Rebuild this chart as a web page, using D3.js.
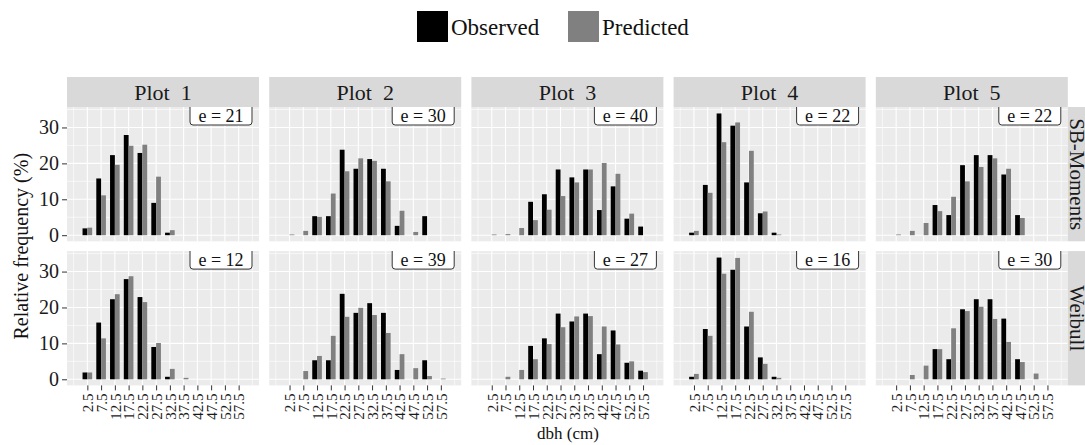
<!DOCTYPE html>
<html>
<head>
<meta charset="utf-8">
<script src="https://cdn.jsdelivr.net/npm/d3@7"></script>
<style>
  body { margin: 0; background: #fff; }
  text { font-family: "Liberation Serif", "Times New Roman", serif; }
</style>
</head>
<body>
<script>
// data
var dbhClasses = [2.5, 7.5, 12.5, 17.5, 22.5, 27.5, 32.5, 37.5, 42.5, 47.5, 52.5, 57.5];
var plots = ["Plot  1", "Plot  2", "Plot  3", "Plot  4", "Plot  5"];
var methods = ["SB-Moments", "Weibull"];
var yTicks = [0, 10, 20, 30];

var observed = [
  [1.9, 15.8, 22.3, 27.9, 22.9, 9.0, 0.7, 0, 0, 0, 0, 0],
  [0, 0, 5.3, 5.3, 23.8, 18.5, 21.2, 18.5, 2.6, 0, 5.3, 0],
  [0, 0, 0, 9.3, 11.4, 18.3, 16.1, 18.3, 7.0, 13.6, 4.6, 2.4],
  [0.7, 14.0, 33.9, 30.5, 14.7, 6.1, 0.7, 0, 0, 0, 0, 0],
  [0, 0, 0, 8.4, 5.6, 19.5, 22.3, 22.3, 16.9, 5.6, 0, 0]
];
var predSB = [
  [2.1, 11.1, 19.6, 24.9, 25.2, 16.3, 1.4, 0, 0, 0, 0, 0],
  [0.2, 1.2, 5.1, 11.6, 17.8, 21.4, 20.7, 15.0, 6.8, 0.9, 0, 0],
  [0.2, 0.3, 2.0, 4.2, 7.1, 10.9, 14.7, 18.3, 20.1, 17.1, 6.0, 0],
  [1.2, 11.8, 25.9, 31.4, 23.5, 6.6, 0.2, 0, 0, 0, 0, 0],
  [0.2, 1.2, 3.4, 6.7, 10.7, 15.0, 19.0, 21.4, 18.5, 4.8, 0, 0]
];
var predWeibull = [
  [1.9, 11.4, 23.7, 28.7, 21.5, 10.1, 2.9, 0.4, 0, 0, 0, 0],
  [0, 2.3, 6.5, 12.1, 17.4, 19.9, 17.9, 12.9, 7.0, 3.1, 0.9, 0.2],
  [0, 0.7, 2.6, 5.6, 9.8, 14.5, 17.5, 17.6, 14.7, 9.7, 5.0, 2.0],
  [1.5, 12.1, 29.4, 33.8, 18.8, 4.3, 0.4, 0, 0, 0, 0, 0],
  [0, 1.2, 3.8, 8.4, 14.2, 19.0, 20.2, 16.8, 10.4, 4.8, 1.6, 0]
];
var errSB = [21, 30, 40, 22, 22];
var errWeibull = [12, 39, 27, 16, 30];

var predicted = [predSB, predWeibull];
var errors = [errSB, errWeibull];

// layout
var width = 1085, height = 445;
var panelLeft = 67, panelW = 192, panelGap = 10.2;
var rowTop = [107, 251.1], panelH = 134.3;
var barW = 1.75;   // in cm, each bar of the dodged pair
var obsColor = "#000000", predColor = "#808080";

var svg = d3.select("body").append("svg")
  .attr("width", width).attr("height", height);

var xScale = d3.scaleLinear().domain([-4.9, 64.9]).range([0, panelW]);
var yScale = d3.scaleLinear().domain([-1.7, 35.7]).range([panelH, 0]);

var defs = svg.append("defs");
defs.append("clipPath").attr("id", "panelClip")
  .append("rect").attr("width", panelW).attr("height", panelH);

var majorX = dbhClasses;
var minorX = d3.range(-2.5, 65, 5).filter(function(v) { return dbhClasses.indexOf(v) < 0; });
var minorY = [5, 15, 25, 35];

for (var r = 0; r < methods.length; r++) {
  for (var c = 0; c < plots.length; c++) {
    var px = panelLeft + c * (panelW + panelGap);
    var g = svg.append("g").attr("transform", "translate(" + px + "," + rowTop[r] + ")");

    g.append("rect").attr("width", panelW).attr("height", panelH).attr("fill", "#EBEBEB");

    // grid
    g.selectAll(".minx").data(minorX).enter().append("line")
      .attr("x1", function(d) { return xScale(d); }).attr("x2", function(d) { return xScale(d); })
      .attr("y1", 0).attr("y2", panelH).attr("stroke", "#fff").attr("stroke-width", 0.6);
    g.selectAll(".miny").data(minorY).enter().append("line")
      .attr("y1", function(d) { return yScale(d); }).attr("y2", function(d) { return yScale(d); })
      .attr("x1", 0).attr("x2", panelW).attr("stroke", "#fff").attr("stroke-width", 0.6);
    g.selectAll(".majx").data(majorX).enter().append("line")
      .attr("x1", function(d) { return xScale(d); }).attr("x2", function(d) { return xScale(d); })
      .attr("y1", 0).attr("y2", panelH).attr("stroke", "#fff").attr("stroke-width", 1.1);
    g.selectAll(".majy").data(yTicks).enter().append("line")
      .attr("y1", function(d) { return yScale(d); }).attr("y2", function(d) { return yScale(d); })
      .attr("x1", 0).attr("x2", panelW).attr("stroke", "#fff").attr("stroke-width", 1.1);

    // bars: observed left of the class mid, predicted right
    var rows = dbhClasses.map(function(d, i) {
      return { dbh: d, obs: observed[c][i], pred: predicted[r][c][i] };
    });
    g.selectAll(".obs").data(rows).enter().append("rect")
      .attr("x", function(d) { return xScale(d.dbh - barW); })
      .attr("width", function(d) { return xScale(d.dbh) - xScale(d.dbh - barW); })
      .attr("y", function(d) { return yScale(d.obs); })
      .attr("height", function(d) { return yScale(0) - yScale(d.obs); })
      .attr("fill", obsColor);
    g.selectAll(".pred").data(rows).enter().append("rect")
      .attr("x", function(d) { return xScale(d.dbh); })
      .attr("width", function(d) { return xScale(d.dbh + barW) - xScale(d.dbh); })
      .attr("y", function(d) { return yScale(d.pred); })
      .attr("height", function(d) { return yScale(0) - yScale(d.pred); })
      .attr("fill", predColor);

    // error label box in the top right corner
    var lab = g.append("g").attr("clip-path", "url(#panelClip)");
    lab.append("rect").attr("x", panelW - 69).attr("y", -6).attr("width", 62).attr("height", 24)
      .attr("rx", 3).attr("fill", "#fff").attr("stroke", "#333").attr("stroke-width", 1);
    lab.append("text").attr("x", panelW - 38).attr("y", 15)
      .attr("text-anchor", "middle").attr("font-size", 18).attr("fill", "#111")
      .text("e = " + errors[r][c]);

    // column strips
    if (r == 0) {
      g.append("rect").attr("y", -30).attr("width", panelW).attr("height", 30).attr("fill", "#D9D9D9");
      g.append("text").attr("x", panelW / 2).attr("y", -15).attr("dy", "0.35em")
        .attr("text-anchor", "middle").attr("font-size", 22).attr("fill", "#1a1a1a")
        .style("white-space", "pre").text(plots[c]);
    }

    // row strips (cut by the right edge of the figure, as in the original)
    if (c == plots.length - 1) {
      g.append("rect").attr("x", panelW).attr("width", 30).attr("height", panelH).attr("fill", "#D9D9D9");
      g.append("text").attr("transform", "translate(" + (panelW + 2) + "," + (panelH / 2) + ") rotate(90)")
        .attr("text-anchor", "middle").attr("font-size", 21).attr("fill", "#1a1a1a")
        .text(methods[r]);
    }

    // y axis
    if (c == 0) {
      var ya = g.append("g").call(d3.axisLeft(yScale).tickValues(yTicks).tickSize(5).tickPadding(3));
      ya.select(".domain").remove();
      ya.selectAll("line").attr("stroke", "#333");
      ya.selectAll("text").attr("font-size", 20).attr("fill", "#1a1a1a");
    }

    // x axis on the bottom row
    if (r == methods.length - 1) {
      var xa = g.append("g").attr("transform", "translate(0," + panelH + ")")
        .call(d3.axisBottom(xScale).tickValues(dbhClasses).tickSize(5).tickFormat(d3.format(".1f")));
      xa.select(".domain").remove();
      xa.selectAll("line").attr("stroke", "#333");
      xa.selectAll("text").attr("font-size", 15).attr("fill", "#1a1a1a")
        .attr("text-anchor", "end").attr("dy", "0.35em")
        .attr("transform", "translate(0,8) rotate(-90)").attr("y", 0).attr("x", 0);
    }
  }
}

// axis titles
svg.append("text")
  .attr("transform", "translate(28," + ((rowTop[0] + rowTop[1] + panelH) / 2) + ") rotate(-90)")
  .attr("text-anchor", "middle").attr("font-size", 20).attr("fill", "#111")
  .text("Relative frequency (%)");
svg.append("text").attr("x", 568).attr("y", 439)
  .attr("text-anchor", "middle").attr("font-size", 17).attr("fill", "#111")
  .text("dbh (cm)");

// legend
var legend = [["Observed", obsColor, 417], ["Predicted", predColor, 568]];
legend.forEach(function(l) {
  svg.append("rect").attr("x", l[2]).attr("y", 11).attr("width", 31).attr("height", 31).attr("fill", l[1]);
  svg.append("text").attr("x", l[2] + 34).attr("y", 35).attr("font-size", 23).attr("fill", "#111").text(l[0]);
});
</script>
</body>
</html>
